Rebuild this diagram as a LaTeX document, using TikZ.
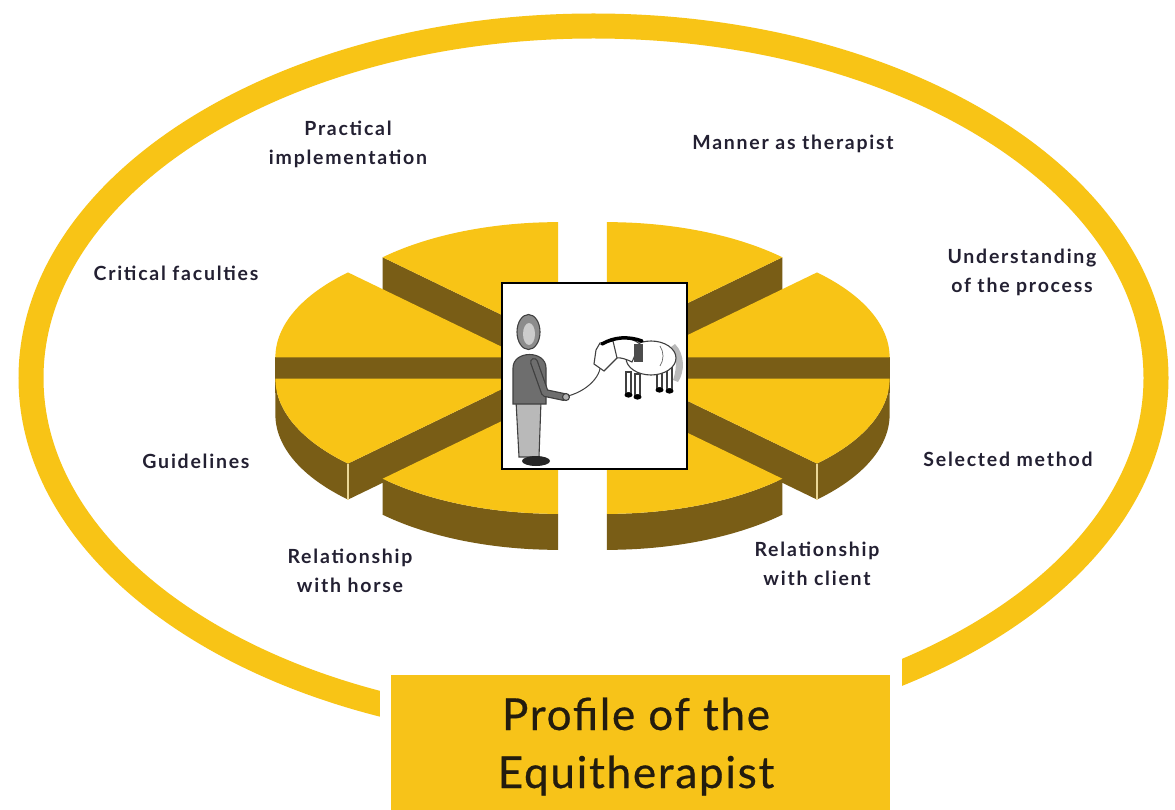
\documentclass[tikz,border=0pt]{standalone}
\usepackage{fontspec}
\setmainfont{Lato}
\newfontfamily\labfont[LetterSpace=9]{Lato}
\newfontfamily\titfont[LetterSpace=4,FakeBold=0.6]{Lato}
\definecolor{ringyel}{RGB}{248,196,22}
\definecolor{pietop}{RGB}{248,196,22}
\definecolor{pieside}{RGB}{121,93,22}
\definecolor{boxyel}{RGB}{247,195,25}
\definecolor{labcol}{RGB}{35,32,50}
\definecolor{titcol}{RGB}{35,28,14}
\definecolor{cornerc}{RGB}{235,215,150}
\definecolor{headgray}{RGB}{140,140,140}
\definecolor{torsogray}{RGB}{110,110,110}
\definecolor{leggray}{RGB}{185,185,185}
\def\pcx{582.5}
\def\pcy{368}
\def\pRx{248}
\def\pRy{120}
\def\pex{64}
\def\pey{28}
\def\pth{36}
\newcommand\pieslice[5]{%
  \pgfmathsetmacro\pbis{(#1+#2)/2}%
  \pgfmathsetmacro\pax{\pcx+\pex*cos(\pbis)}%
  \pgfmathsetmacro\pay{\pcy-\pey*sin(\pbis)}%
  \ifnum#3=1
    \fill[pieside] (\pax,\pay) -- ({\pax+\pRx*cos(#1)},{\pay-\pRy*sin(#1)}) -- ({\pax+\pRx*cos(#1)},{\pay-\pRy*sin(#1)+\pth}) -- (\pax,{\pay+\pth}) -- cycle;
  \fi
  \ifnum#4=1
    \fill[pieside] (\pax,\pay) -- ({\pax+\pRx*cos(#2)},{\pay-\pRy*sin(#2)}) -- ({\pax+\pRx*cos(#2)},{\pay-\pRy*sin(#2)+\pth}) -- (\pax,{\pay+\pth}) -- cycle;
  \fi
  \ifnum#5=1
    \fill[pieside] plot[domain=#1:#2,samples=40] ({\pax+\pRx*cos(\x)},{\pay-\pRy*sin(\x)}) -- plot[domain=#1:#2,samples=40] ({\pax+\pRx*cos(#1+#2-\x)},{\pay-\pRy*sin(#1+#2-\x)+\pth}) -- cycle;
    \ifnum#3=1
      \draw[cornerc, line width=1.2pt] ({\pax+\pRx*cos(#1)},{\pay-\pRy*sin(#1)}) -- ++(0,\pth);
    \fi
    \ifnum#4=1
      \draw[cornerc, line width=1.2pt] ({\pax+\pRx*cos(#2)},{\pay-\pRy*sin(#2)}) -- ++(0,\pth);
    \fi
  \fi
  \fill[pietop] (\pax,\pay) -- plot[domain=#1:#2,samples=40] ({\pax+\pRx*cos(\x)},{\pay-\pRy*sin(\x)}) -- cycle;
}
\begin{document}
\begin{tikzpicture}[x=1pt,y=-1pt,
  lab/.style={font=\labfont\fontsize{19.5}{29}\selectfont\bfseries, text=labcol, align=center, inner sep=0pt},
  tit/.style={font=\titfont\fontsize{44}{58}\selectfont, text=titcol, inner sep=0pt},
  outl/.style={draw=black!75, line width=1.1pt}]
\useasboundingbox (0,0) rectangle (1175,810);
\fill[white] (0,0) rectangle (1175,810);
% outer ring
\draw[ringyel, line width=25pt] (593.5,378) ellipse [x radius=562.5, y radius=352];
% exploded pie
\pieslice{45}{90}{1}{0}{0}
\pieslice{90}{135}{0}{1}{0}
\pieslice{0}{45}{1}{0}{0}
\pieslice{135}{180}{0}{1}{0}
\pieslice{315}{360}{1}{0}{1}
\pieslice{180}{225}{0}{1}{1}
\pieslice{225}{270}{0}{0}{1}
\pieslice{270}{315}{0}{0}{1}
% central picture
\draw[fill=white, draw=black, line width=2.5pt] (502,283) rectangle (687,469);
% person
\draw[outl, fill=leggray] (516,401) -- (541,401) -- (539,457) -- (519,457) -- cycle;
\draw[outl, fill=torsogray] (513,404) -- (513,368) .. controls (513,350) and (546,350) .. (546,368) -- (546,404) -- cycle;
\draw[black!75, line width=8pt, line cap=round, line join=round] (534,362) -- (545,393) -- (564,397);
\draw[torsogray, line width=5.5pt, line cap=round, line join=round] (534,362) -- (545,393) -- (564,397);
\draw[outl, fill=headgray] (528.5,332) ellipse [x radius=11.5, y radius=17.5];
\fill[gray!40] (529,334) ellipse [x radius=6, y radius=11];
\draw[outl, fill=gray!60] (566,397) circle [radius=3.5];
\fill[black!85] (536,461) ellipse [x radius=14, y radius=5];
% rope
\draw[black!75, line width=1pt] (568,396) .. controls (590,390) and (606,372) .. (599,356);
% horse
\fill[gray!55] (675,344) .. controls (685,354) and (685,372) .. (678,382) -- (673,380) .. controls (678,366) and (676,352) .. (671,347) -- cycle;
\draw[outl, fill=white] (626,372) rectangle (631,393);
\draw[outl, fill=white] (635,374) rectangle (640,395);
\draw[outl, fill=white] (657,370) rectangle (662,388);
\draw[outl, fill=white] (667,368) rectangle (672,389);
\draw[outl, fill=white] (651,358) ellipse [x radius=25, y radius=17];
\draw[outl, fill=white] (603,344) .. controls (615,336) and (630,336) .. (640,344) -- (632,362) .. controls (624,358) and (616,356) .. (612,360) -- cycle;
\draw[outl, fill=white] (600,343) -- (613,341) -- (617,358) -- (604,371) -- (594,364) -- (596,350) -- cycle;
\draw[black, line width=3.5pt, line cap=round] (602,344) .. controls (614,337) and (628,336) .. (642,341);
\fill[black!70] (634,344) rectangle (643,362);
\draw[black!60, line width=0.7pt] (660,346) .. controls (664,352) and (664,360) .. (660,366);
\fill[black] (628.5,395) ellipse [x radius=4, y radius=2.6];
\fill[black] (637.5,397) ellipse [x radius=4, y radius=2.6];
\fill[black] (659.5,390) ellipse [x radius=4, y radius=2.6];
\fill[black] (669.5,391) ellipse [x radius=4, y radius=2.6];
% title box
\fill[white] (380,640) rectangle (902,815);
\fill[boxyel] (391,675) rectangle (890,815);
\node[tit, anchor=base] (t1) at (636,730) {Profile of the};
\node[tit, anchor=base] (t2) at (636,788) {Equitherapist};
% labels
\node[lab] (prac) at (348,144) {Practical\\implementation};
\node[lab] (mann) at (793,144) {Manner as therapist};
\node[lab] (crit) at (176,273) {Critical faculties};
\node[lab] (und)  at (1022,272) {Understanding\\of the process};
\node[lab] (guid) at (196,461) {Guidelines};
\node[lab] (sel)  at (1008,459) {Selected method};
\node[lab] (relh) at (350,571) {Relationship\\with horse};
\node[lab] (relc) at (817,564) {Relationship\\with client};
\end{tikzpicture}
\end{document}
